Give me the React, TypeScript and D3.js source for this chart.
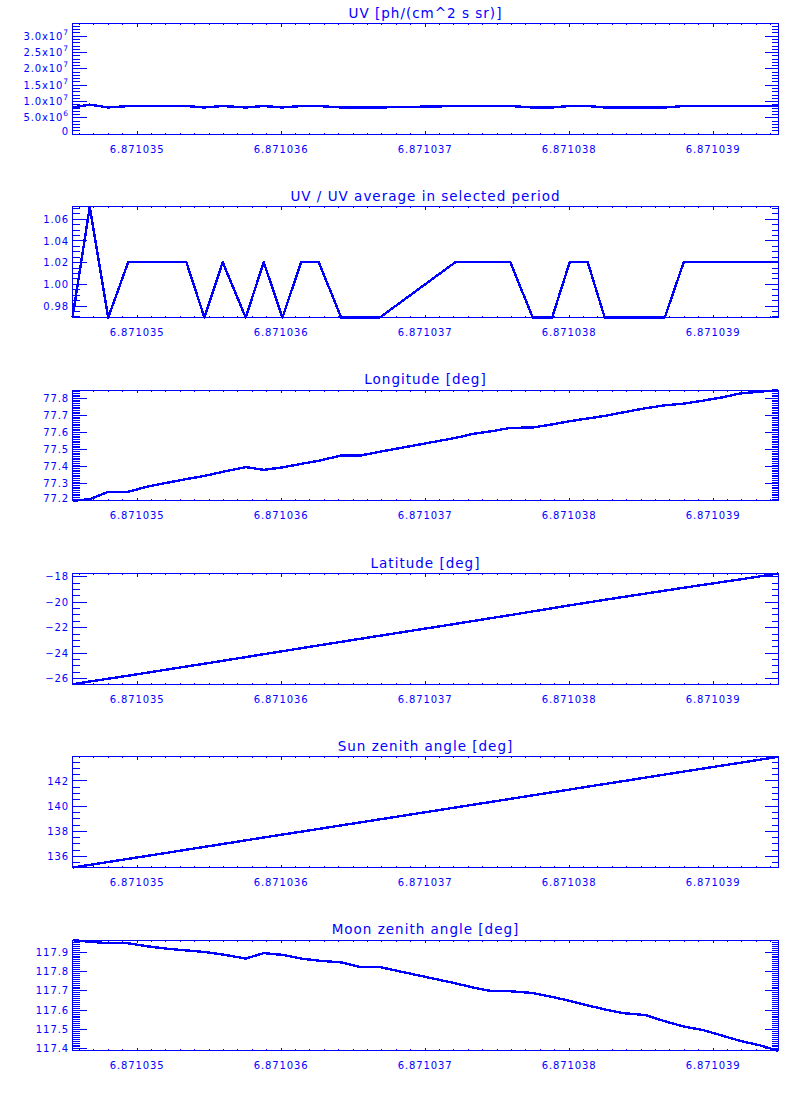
import * as d3 from "d3"

// sample times (same grid for every panel)
const times = [
  6.871034551, 6.871034671, 6.871034799, 6.871034938, 6.871035072, 6.871035207, 6.871035342,
  6.871035467, 6.871035594, 6.871035754, 6.871035879, 6.871036009, 6.871036139, 6.871036261,
  6.871036417, 6.871036551, 6.871036685, 6.87103721, 6.871037335, 6.871037467, 6.871037592,
  6.871037747, 6.871037882, 6.871038004, 6.871038129, 6.871038247, 6.871038377, 6.87103853,
  6.871038664, 6.871038796, 6.871038926, 6.871039058, 6.87103919, 6.871039322, 6.871039454,
]

const uvFlux = [
  8.19e6, 9.05e6, 8.19e6, 8.62e6, 8.62e6, 8.62e6, 8.62e6, 8.19e6, 8.62e6, 8.19e6, 8.62e6, 8.19e6,
  8.62e6, 8.62e6, 8.19e6, 8.19e6, 8.19e6, 8.62e6, 8.62e6, 8.62e6, 8.62e6, 8.19e6, 8.19e6, 8.62e6,
  8.62e6, 8.19e6, 8.19e6, 8.19e6, 8.19e6, 8.62e6, 8.62e6, 8.62e6, 8.62e6, 8.62e6, 8.62e6,
]

const uvRatio = [
  0.9694, 1.0714, 0.9694, 1.0204, 1.0204, 1.0204, 1.0204, 0.9694, 1.0204, 0.9694, 1.0204, 0.9694,
  1.0204, 1.0204, 0.9694, 0.9694, 0.9694, 1.0204, 1.0204, 1.0204, 1.0204, 0.9694, 0.9694, 1.0204,
  1.0204, 0.9694, 0.9694, 0.9694, 0.9694, 1.0204, 1.0204, 1.0204, 1.0204, 1.0204, 1.0204,
]

const longitude = [
  77.2, 77.21, 77.253, 77.253, 77.284, 77.306, 77.328, 77.346, 77.37, 77.398, 77.382, 77.396,
  77.417, 77.435, 77.466, 77.466, 77.488, 77.569, 77.593, 77.609, 77.628, 77.63, 77.648, 77.667,
  77.683, 77.698, 77.719, 77.743, 77.76, 77.77, 77.787, 77.806, 77.83, 77.84, 77.849,
]

const latitude = [
  -26.44, -26.23, -26.01, -25.77, -25.53, -25.29, -25.05, -24.83, -24.6, -24.31, -24.08, -23.85,
  -23.61, -23.39, -23.11, -22.87, -22.63, -21.7, -21.47, -21.23, -21.01, -20.72, -20.47, -20.24,
  -20.02, -19.81, -19.58, -19.32, -19.09, -18.86, -18.64, -18.42, -18.2, -17.97, -17.74,
]

const sunZenith = [
  135.12, 135.33, 135.56, 135.81, 136.05, 136.29, 136.54, 136.76, 136.99, 137.28, 137.51, 137.74,
  137.97, 138.19, 138.47, 138.71, 138.95, 139.89, 140.12, 140.35, 140.58, 140.86, 141.1, 141.32,
  141.55, 141.76, 141.99, 142.27, 142.51, 142.75, 142.98, 143.22, 143.45, 143.69, 143.92,
]

const moonZenith = [
  117.962, 117.954, 117.946, 117.946, 117.93, 117.918, 117.909, 117.901, 117.888, 117.867, 117.895,
  117.886, 117.867, 117.856, 117.847, 117.823, 117.823, 117.739, 117.717, 117.698, 117.698, 117.689,
  117.669, 117.648, 117.625, 117.604, 117.585, 117.575, 117.543, 117.516, 117.498, 117.47, 117.441,
  117.419, 117.39,
]

const titles = [
  "UV [ph/(cm^2 s sr)]",
  "UV / UV average in selected period",
  "Longitude [deg]",
  "Latitude [deg]",
  "Sun zenith angle [deg]",
  "Moon zenith angle [deg]",
]

const uvRange = [0, 3.39e7]

const BLUE = "#0000ff"
const FONT = "'DejaVu Sans', sans-serif"

const plotLeft = 72.5
const plotRight = 778.5
const firstTop = 23.5
const panelStep = 1100 / 6
const plotH = 110.7

function stepTicks(d0: number, d1: number, step: number) {
  const i0 = Math.ceil(d0 / step - 1e-6)
  const i1 = Math.floor(d1 / step + 1e-6)
  return d3.range(i0, i1 + 1).map((i) => +(i * step).toPrecision(12))
}

function sciLabel(v: number) {
  if (v === 0) return "0"
  const e = Math.floor(Math.log10(v) + 1e-9)
  const m = v / 10 ** e
  return (
    <>
      {m.toFixed(1)}x10
      <tspan dy={-5} fontSize={7.5}>
        {e}
      </tspan>
    </>
  )
}

const panels = [
  { values: uvFlux, domain: uvRange, major: 5e6, minor: 1e6, fmt: (v: number) => sciLabel(v) },
  { values: uvRatio, domain: null, major: 0.02, minor: 0.005, fmt: d3.format(".2f") },
  { values: longitude, domain: null, major: 0.1, minor: 0.01, fmt: d3.format(".1f") },
  { values: latitude, domain: null, major: 2, minor: 0.5, fmt: d3.format("d") },
  { values: sunZenith, domain: null, major: 2, minor: 0.5, fmt: d3.format("d") },
  { values: moonZenith, domain: null, major: 0.1, minor: 0.01, fmt: d3.format(".1f") },
]

const xExtent = d3.extent(times) as [number, number]
const xScale = d3.scaleLinear().domain(xExtent).range([plotLeft, plotRight])
const xMajor = stepTicks(xExtent[0], xExtent[1], 1e-6)
const xMinor = stepTicks(xExtent[0], xExtent[1], 1e-7)
const xFmt = d3.format(".6f")

function Panel({ index }: { index: number }) {
  const p = panels[index]
  const top = firstTop + index * panelStep
  const bottom = top + plotH
  const domain = (p.domain ?? d3.extent(p.values)) as [number, number]
  const y = d3.scaleLinear().domain(domain).range([bottom, top])
  const yMajor = stepTicks(domain[0], domain[1], p.major)
  const yMinor = stepTicks(domain[0], domain[1], p.minor)

  const line = d3
    .line<number>()
    .x((_, i) => xScale(times[i]))
    .y((d) => y(d))

  return (
    <g>
      <text
        x={(plotLeft + plotRight) / 2}
        y={top - 6}
        textAnchor="middle"
        fontSize={13.5}
        letterSpacing={1}
        fill={BLUE}
      >
        {titles[index]}
      </text>

      <g stroke={BLUE} strokeWidth={1} shapeRendering="crispEdges">
        <rect x={plotLeft} y={top} width={plotRight - plotLeft} height={plotH} fill="none" />
        {yMinor.map((v) => (
          <g key={"ym" + v}>
            <line x1={plotLeft} x2={plotLeft + 7} y1={y(v)} y2={y(v)} />
            <line x1={plotRight} x2={plotRight - 7} y1={y(v)} y2={y(v)} />
          </g>
        ))}
        {yMajor.map((v) => (
          <g key={"yM" + v}>
            <line x1={plotLeft} x2={plotLeft + 14} y1={y(v)} y2={y(v)} />
            <line x1={plotRight} x2={plotRight - 14} y1={y(v)} y2={y(v)} />
          </g>
        ))}
        {xMinor.map((v) => (
          <g key={"xm" + v}>
            <line x1={xScale(v)} x2={xScale(v)} y1={bottom} y2={bottom - 1.5} />
            <line x1={xScale(v)} x2={xScale(v)} y1={top} y2={top + 1.5} />
          </g>
        ))}
        {xMajor.map((v) => (
          <g key={"xM" + v}>
            <line x1={xScale(v)} x2={xScale(v)} y1={bottom} y2={bottom - 3} />
            <line x1={xScale(v)} x2={xScale(v)} y1={top} y2={top + 3} />
          </g>
        ))}
      </g>

      <g fill={BLUE} fontSize={10} letterSpacing={0.9}>
        {yMajor.map((v) => (
          <text key={"yl" + v} x={69} y={Math.min(y(v) + 3.6, bottom + 1)} textAnchor="end">
            {p.fmt(v)}
          </text>
        ))}
        {xMajor.map((v) => (
          <text key={"xl" + v} x={xScale(v)} y={bottom + 18.3} textAnchor="middle">
            {xFmt(v)}
          </text>
        ))}
      </g>

      <path
        d={line(p.values) ?? ""}
        fill="none"
        stroke={BLUE}
        strokeWidth={2.4}
        strokeLinejoin="round"
        shapeRendering="crispEdges"
      />
    </g>
  )
}

export default function App() {
  return (
    <svg
      width={800}
      height={1100}
      style={{ position: "absolute", left: 0, top: 0, background: "white" }}
      fontFamily={FONT}
    >
      {panels.map((_, i) => (
        <Panel key={i} index={i} />
      ))}
    </svg>
  )
}
